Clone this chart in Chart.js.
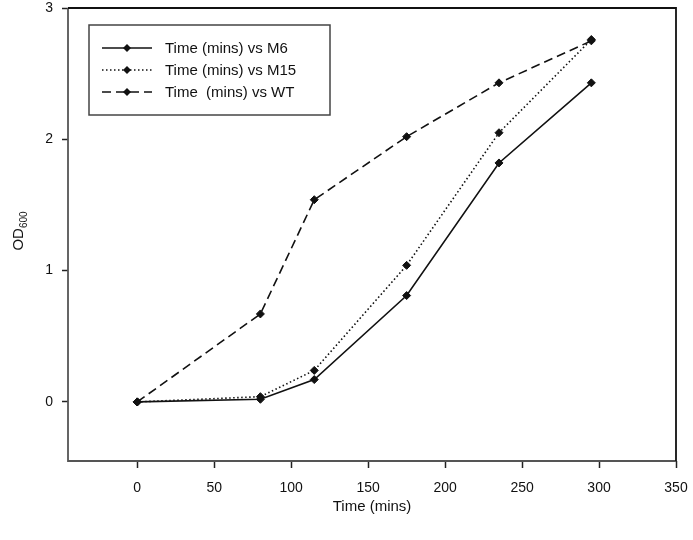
<!DOCTYPE html>
<html>
<head>
<meta charset="utf-8">
<script src="https://cdn.jsdelivr.net/npm/chart.js@4.4.0/dist/chart.umd.min.js"></script>
<style>
    html, body { margin: 0; padding: 0; background: #fff; }
    #wrap { width: 693px; height: 540px; position: relative; }
</style>
</head>
<body>
<div id="wrap"><canvas id="growth-chart"></canvas></div>
<script>
// sampling times (mins)
const timeMins = [0, 80, 115, 175, 235, 295];

// OD600 readings per strain
const odM6 = [0, 0.02, 0.17, 0.81, 1.82, 2.43];
const odM15 = [0, 0.04, 0.24, 1.04, 2.05, 2.76];
const odWT = [0, 0.67, 1.54, 2.02, 2.43, 2.75];

const seriesLabels = ['Time (mins) vs M6', 'Time (mins) vs M15', 'Time  (mins) vs WT'];
const xTickValues = [0, 50, 100, 150, 200, 250, 300, 350];
const yTickValues = [0, 1, 2, 3];

const FONT = '"Liberation Sans", Arial, sans-serif';

const toPoints = (ys) => ys.map((y, i) => ({ x: timeMins[i], y: y }));

// boxed legend + plot frame + y title with subscript
const frameAndLegend = {
    id: 'frameAndLegend',
    afterDatasetsDraw(chart) {
        const ctx = chart.ctx;
        const a = chart.chartArea;
        ctx.save();

        // plot frame: left/bottom a bit greyer like the original
        ctx.lineWidth = 1.8;
        ctx.strokeStyle = '#555';
        ctx.beginPath();
        ctx.moveTo(a.left, a.top);
        ctx.lineTo(a.left, a.bottom);
        ctx.lineTo(a.right, a.bottom);
        ctx.stroke();
        ctx.strokeStyle = '#111';
        ctx.beginPath();
        ctx.moveTo(a.left, a.top);
        ctx.lineTo(a.right, a.top);
        ctx.lineTo(a.right, a.bottom);
        ctx.stroke();

        // legend box
        const lx = 89, ly = 25, lw = 241, lh = 90;
        ctx.fillStyle = '#fff';
        ctx.fillRect(lx, ly, lw, lh);
        ctx.strokeStyle = '#444';
        ctx.lineWidth = 1.5;
        ctx.strokeRect(lx, ly, lw, lh);

        chart.data.datasets.forEach((ds, i) => {
            const cy = 48 + i * 22;
            ctx.strokeStyle = '#111';
            ctx.lineWidth = ds.borderWidth;
            ctx.setLineDash(ds.borderDash || []);
            ctx.beginPath();
            ctx.moveTo(102, cy);
            ctx.lineTo(152, cy);
            ctx.stroke();
            ctx.setLineDash([]);
            // marker
            ctx.fillStyle = '#111';
            ctx.beginPath();
            ctx.moveTo(127, cy - 4);
            ctx.lineTo(131, cy);
            ctx.lineTo(127, cy + 4);
            ctx.lineTo(123, cy);
            ctx.closePath();
            ctx.fill();

            ctx.font = '15px ' + FONT;
            ctx.textBaseline = 'middle';
            ctx.textAlign = 'left';
            ctx.fillText(ds.label, 165, cy + 1);
        });

        // y axis title: OD600 with subscript
        ctx.translate(19, 231);
        ctx.rotate(-Math.PI / 2);
        ctx.fillStyle = '#111';
        ctx.textBaseline = 'middle';
        ctx.font = '15px ' + FONT;
        const odW = ctx.measureText('OD').width;
        ctx.font = '10px ' + FONT;
        const subW = ctx.measureText('600').width;
        const startX = -(odW + subW) / 2;
        ctx.font = '15px ' + FONT;
        ctx.textAlign = 'left';
        ctx.fillText('OD', startX, 0);
        ctx.font = '10px ' + FONT;
        ctx.fillText('600', startX + odW, 5);

        ctx.restore();
    }
};

function makeDataset(label, ys, dash) {
    return {
        label: label,
        data: toPoints(ys),
        borderColor: '#111',
        backgroundColor: '#111',
        borderWidth: 1.6,
        borderDash: dash,
        pointStyle: 'rectRot',
        pointRadius: 4,
        pointBorderWidth: 1,
        pointBackgroundColor: '#111',
        pointBorderColor: '#111',
        tension: 0,
        fill: false,
    };
}

new Chart(document.getElementById('growth-chart'), {
    type: 'line',
    data: {
        datasets: [
            makeDataset(seriesLabels[0], odM6, []),
            makeDataset(seriesLabels[1], odM15, [1.5, 2.5]),
            makeDataset(seriesLabels[2], odWT, [9, 5]),
        ],
    },
    options: {
        responsive: true,
        maintainAspectRatio: false,
        animation: false,
        layout: { padding: { left: 0, top: 8, right: 17, bottom: 0 } },
        plugins: {
            legend: { display: false },
            tooltip: { enabled: false },
        },
        scales: {
            x: {
                type: 'linear',
                min: -45,
                max: 350,
                afterBuildTicks: (scale) => {
                    scale.ticks = xTickValues.map(v => ({ value: v }));
                },
                afterFit: (scale) => {
                    scale.height = 79;
                    scale.paddingLeft = 0;
                    scale.paddingRight = 0;
                },
                grid: {
                    drawOnChartArea: false,
                    drawTicks: true,
                    tickLength: 7,
                    tickWidth: 1.5,
                    tickColor: '#222',
                },
                border: { display: false },
                ticks: {
                    color: '#111',
                    padding: 12,
                    font: { family: FONT, size: 14 },
                },
                title: {
                    display: true,
                    text: 'Time (mins)',
                    color: '#111',
                    font: { family: FONT, size: 15 },
                    padding: { top: 0, bottom: 24 },
                },
            },
            y: {
                type: 'linear',
                min: -0.45,
                max: 3,
                afterBuildTicks: (scale) => {
                    scale.ticks = yTickValues.map(v => ({ value: v }));
                },
                afterFit: (scale) => {
                    scale.width = 68;
                    scale.paddingTop = 0;
                    scale.paddingBottom = 0;
                },
                grid: {
                    drawOnChartArea: false,
                    drawTicks: true,
                    tickLength: 6,
                    tickWidth: 1.5,
                    tickColor: '#222',
                },
                border: { display: false },
                ticks: {
                    color: '#111',
                    padding: 9,
                    font: { family: FONT, size: 14 },
                },
            },
        },
    },
    plugins: [frameAndLegend],
});
</script>
</body>
</html>
